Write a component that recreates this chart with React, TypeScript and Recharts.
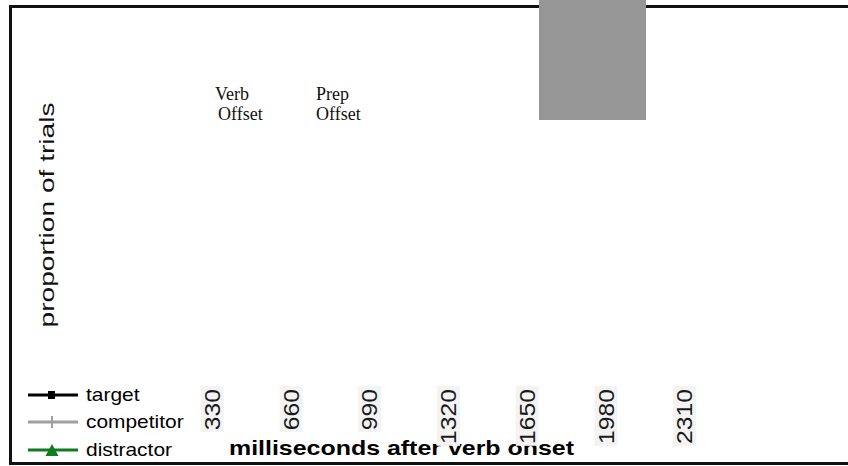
import { Customized, Legend, Line, LineChart, XAxis, YAxis } from 'recharts'

// time bins (ms after verb onset)
const times = [0, 330, 660, 990, 1320, 1650, 1980, 2310, 2640]
const tickValues = [330, 660, 990, 1320, 1650, 1980, 2310]
// no curves are visible in the figure
const target = [null, null, null, null, null, null, null, null, null]
const competitor = [null, null, null, null, null, null, null, null, null]
const distractor = [null, null, null, null, null, null, null, null, null]

const seriesNames = ['target', 'competitor', 'distractor']
const seriesColors = ['#000000', '#a0a0a0', '#127a21']

const rows = times.map((t, i) => ({
  t,
  target: target[i],
  competitor: competitor[i],
  distractor: distractor[i],
}))

const SANS = 'Liberation Sans, Arial, sans-serif'
const SERIF = 'Liberation Serif, Times New Roman, serif'

// labels in the source are a bit wider than plain Arial, hence the scale
const RotatedTick = ({ x, payload }: any) => {
  const len = String(payload.value).length * 0.556 * 22 * 1.12
  return (
    <g transform={`translate(${x},388)`}>
      <rect x={-11} y={-2} width={23} height={len + 5} fill="#f3f3f3" />
      <text transform="rotate(-90) scale(1.12,1)" x={-1} y={8} textAnchor="end" fontFamily={SANS} fontSize={22} fill="#1a1a1a">
        {payload.value}
      </text>
    </g>
  )
}

const Marker = ({ i }: { i: number }) => {
  const c = seriesColors[i]
  if (i === 0) return <rect x={20} y={-4} width={7} height={8} fill={c} />
  if (i === 1) return <line x1={24} x2={24} y1={-6} y2={6} stroke={c} strokeWidth={2} />
  return <polygon points="24,-6 30.5,6 17.5,6" fill={c} />
}

const LegendBox = () => (
  <div style={{ fontFamily: SANS, fontSize: 18.5, color: '#000' }}>
    {seriesNames.map((n, i) => (
      <div key={n} style={{ display: 'flex', alignItems: 'center', height: 27.5 }}>
        <svg width={58} height={14} style={{ overflow: 'visible' }}>
          <g transform="translate(0,7)">
            <line x1={0} x2={50} y1={0} y2={0} stroke={seriesColors[i]} strokeWidth={3} />
            <Marker i={i} />
          </g>
        </svg>
        <span style={{ display: 'inline-block', transform: 'scaleX(1.13)', transformOrigin: 'left center' }}>{n}</span>
      </div>
    ))}
  </div>
)

const Overlay = () => (
  <g>
    <text
      transform="translate(54,215) rotate(-90)"
      textAnchor="middle"
      fontFamily={SANS}
      fontSize={20}
      textLength={225}
      lengthAdjust="spacingAndGlyphs"
      fill="#111"
    >
      proportion of trials
    </text>
    <g fontFamily={SERIF} fontSize={18} fill="#111">
      <text x={215} y={100}>Verb</text>
      <text x={218} y={120}>Offset</text>
      <text x={316} y={100}>Prep</text>
      <text x={316} y={120}>Offset</text>
    </g>
    <text
      x={229}
      y={455}
      fontFamily={SANS}
      fontWeight="bold"
      fontSize={21}
      textLength={345}
      lengthAdjust="spacingAndGlyphs"
      fill="#000"
    >
      milliseconds after verb onset
    </text>
  </g>
)

export default function App() {
  return (
    <div style={{ position: 'absolute', left: 0, top: 0, width: 848, height: 466, background: '#fff', overflow: 'hidden' }}>
      <div
        style={{
          position: 'absolute',
          left: 9,
          top: 5,
          width: 900,
          height: 454,
          border: '3px solid #111',
        }}
      />
      <LineChart
        width={848}
        height={466}
        data={rows}
        margin={{ top: 20, right: 85, bottom: 0, left: 133 }}
        style={{ position: 'absolute', left: 0, top: 0 }}
      >
        <XAxis
          dataKey="t"
          type="number"
          domain={[0, 2640]}
          ticks={tickValues}
          axisLine={false}
          tickLine={false}
          tick={<RotatedTick />}
          interval={0}
          height={88}
        />
        <YAxis hide domain={[0, 1]} />
        {seriesNames.map((n, i) => (
          <Line
            key={n}
            dataKey={n}
            stroke={seriesColors[i]}
            strokeWidth={2}
            dot={false}
            isAnimationActive={false}
          />
        ))}
        <Legend content={<LegendBox />} wrapperStyle={{ position: 'absolute', left: 28, top: 381, width: 220 }} />
        <Customized component={<Overlay />} />
      </LineChart>
      <div style={{ position: 'absolute', left: 539, top: 0, width: 107, height: 120, background: '#969696' }} />
    </div>
  )
}
